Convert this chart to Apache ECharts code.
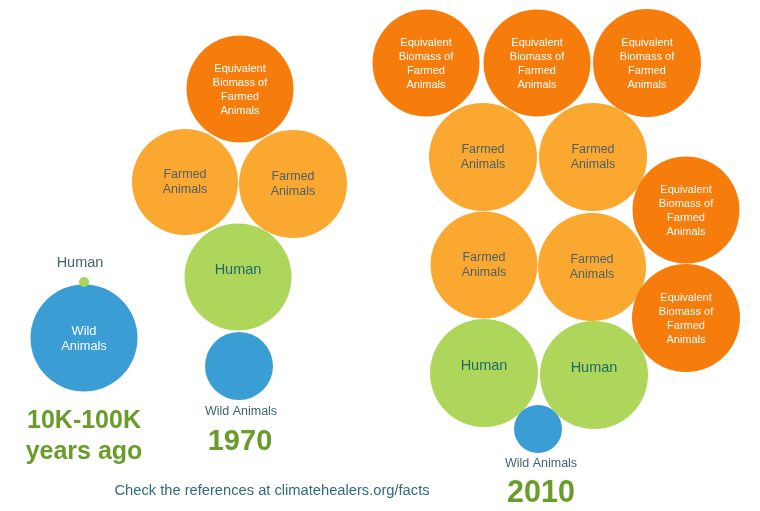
<!DOCTYPE html>
<html>
<head>
<meta charset="utf-8">
<script src="https://cdn.jsdelivr.net/npm/echarts@6/dist/echarts.min.js"></script>
<style>
  html, body { margin: 0; padding: 0; background: #fff; }
  #main { width: 760px; height: 511px; }
</style>
</head>
<body>
<div id="main"></div>
<script>
// circles: centre x, centre y (page units), diameter, kind
var circleX = [84, 84, 240, 185, 293, 238, 239, 426, 537, 647, 483, 593, 686, 484, 592, 686, 484, 594, 538];
var circleY = [338, 282, 89, 182, 184, 277, 366, 63, 63, 63, 157, 157, 210, 265, 267, 318, 373, 375, 429];
var circleD = [107, 10, 107, 106, 108, 107, 68, 107, 107, 108, 108, 108, 107, 107, 108, 108, 108, 108, 48];
var circleKind = ['wild', 'humanDot', 'equiv', 'farmed', 'farmed', 'human', 'wildSmall',
  'equiv', 'equiv', 'equiv', 'farmed', 'farmed', 'equiv', 'farmed', 'farmed', 'equiv', 'human', 'human', 'wildSmall'];

// free text: x, y, text, style
var noteX = [80, 84, 84, 241, 240, 541, 541, 272];
var noteY = [263, 421, 452, 412, 442, 464, 494, 491];
var noteText = ['Human', '10K-100K', 'years ago', 'Wild Animals', '1970', 'Wild Animals', '2010',
  'Check the references at climatehealers.org/facts'];
var noteStyle = ['small', 'era1', 'era1', 'tiny', 'y1970', 'tiny', 'y2010', 'ref'];

var kinds = {
  wild: { color: '#3a9dd4', text: 'Wild\nAnimals', fc: '#ffffff', fs: 12.8, lh: 15, dy: 1 },
  humanDot: { color: '#a9d55a', text: '', fc: '#fff', fs: 1, lh: 1, dy: 0 },
  wildSmall: { color: '#3a9dd4', text: '', fc: '#fff', fs: 1, lh: 1, dy: 0 },
  equiv: { color: '#f67d0c', text: 'Equivalent\nBiomass of\nFarmed\nAnimals', fc: '#ffffff', fs: 11, lh: 14, dy: 1 },
  farmed: { color: '#fba831', text: 'Farmed\nAnimals', fc: '#4f6167', fs: 12.5, lh: 15, dy: 0 },
  human: { color: '#aed65a', text: 'Human', fc: '#1e6a6a', fs: 14.5, lh: 16, dy: -7 }
};
var noteStyles = {
  small: { color: '#3f6570', fs: 14.5, fw: 'normal' },
  tiny: { color: '#3f6570', fs: 12.5, fw: 'normal' },
  era1: { color: '#6a9c2a', fs: 25, fw: 'bold' },
  y1970: { color: '#6a9c2a', fs: 29, fw: 'bold' },
  y2010: { color: '#6a9c2a', fs: 30.5, fw: 'bold' },
  ref: { color: '#2f6b78', fs: 14.7, fw: 'normal' }
};

var circleData = circleX.map(function (x, i) {
  var k = kinds[circleKind[i]];
  return {
    value: [x, circleY[i]],
    symbolSize: circleD[i],
    itemStyle: { color: k.color, opacity: 1 },
    label: { show: k.text !== '', formatter: k.text, color: k.fc, fontSize: k.fs, lineHeight: k.lh, offset: [0, k.dy] }
  };
});
var noteData = noteX.map(function (x, i) {
  var s = noteStyles[noteStyle[i]];
  return {
    value: [x, noteY[i]],
    label: { show: true, formatter: noteText[i], color: s.color, fontSize: s.fs, fontWeight: s.fw }
  };
});

var chart = echarts.init(document.getElementById('main'));
chart.setOption({
  animation: false,
  backgroundColor: '#ffffff',
  textStyle: { fontFamily: 'Liberation Sans, Arial, sans-serif' },
  grid: { left: 0, right: 0, top: 0, bottom: 0 },
  xAxis: { type: 'value', min: 0, max: 760, show: false },
  yAxis: { type: 'value', min: 0, max: 511, inverse: true, show: false },
  series: [
    {
      type: 'scatter',
      data: circleData,
      itemStyle: { opacity: 1 },
      label: { position: 'inside', align: 'center', verticalAlign: 'middle', fontFamily: 'Liberation Sans, Arial, sans-serif' }
    },
    {
      type: 'scatter',
      symbolSize: 0,
      data: noteData,
      itemStyle: { opacity: 1 },
      label: { position: 'inside', align: 'center', verticalAlign: 'middle', fontFamily: 'Liberation Sans, Arial, sans-serif' }
    }
  ]
});
</script>
</body>
</html>
